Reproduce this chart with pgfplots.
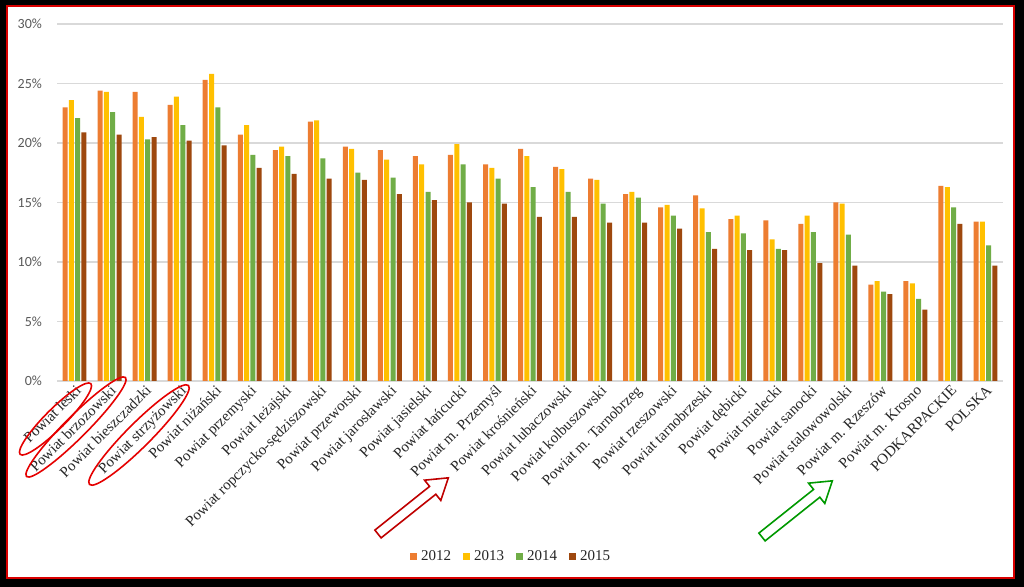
\documentclass[border=0pt]{standalone}
\usepackage{pgfplots}
\pgfplotsset{compat=1.18}
\usepackage{pgfplotstable}
\usepackage{fontspec}
\setmainfont{Liberation Serif}
\newfontfamily\calibri{Carlito}

\definecolor{c2012}{HTML}{ED7D31}
\definecolor{c2013}{HTML}{FFC000}
\definecolor{c2014}{HTML}{70AD47}
\definecolor{c2015}{HTML}{9E480E}
\definecolor{gridgray}{HTML}{D9D9D9}
\definecolor{ticktext}{HTML}{595959}

% unemployment share by county, 2012-2015
\pgfplotstableread{
idx y2012 y2013 y2014 y2015
0  23.0 23.6 22.1 20.9
1  24.4 24.3 22.6 20.7
2  24.3 22.2 20.3 20.5
3  23.2 23.9 21.5 20.2
4  25.3 25.8 23.0 19.8
5  20.7 21.5 19.0 17.9
6  19.4 19.7 18.9 17.4
7  21.8 21.9 18.7 17.0
8  19.7 19.5 17.5 16.9
9  19.4 18.6 17.1 15.7
10 18.9 18.2 15.9 15.2
11 19.0 19.9 18.2 15.0
12 18.2 17.9 17.0 14.9
13 19.5 18.9 16.3 13.8
14 18.0 17.8 15.9 13.8
15 17.0 16.9 14.9 13.3
16 15.7 15.9 15.4 13.3
17 14.6 14.8 13.9 12.8
18 15.6 14.5 12.5 11.1
19 13.6 13.9 12.4 11.0
20 13.5 11.9 11.1 11.0
21 13.2 13.9 12.5 9.9
22 15.0 14.9 12.3 9.7
23 8.1  8.4  7.5  7.3
24 8.4  8.2  6.9  6.0
25 16.4 16.3 14.6 13.2
26 13.4 13.4 11.4 9.7
}\data

\begin{document}
\begin{tikzpicture}
% frame
\fill[black] (0,0) rectangle (512pt,293.5pt);
\filldraw[fill=white, draw=red!85!black, line width=1pt] (3.5pt,4.25pt) rectangle (507pt,290.25pt);

\begin{axis}[
    at={(28.5pt,103pt)}, anchor=south west,
    scale only axis,
    width=473pt, height=178.5pt,
    ybar=0.65pt, bar width=2.5pt,
    xmin=-0.5, xmax=26.5,
    ymin=0, ymax=30,
    xtick={0,...,26},
    xticklabels={Powiat leski, Powiat brzozowski, Powiat bieszczadzki, Powiat strzyżowski,
        Powiat niżański, Powiat przemyski, Powiat leżajski, Powiat ropczycko-sędziszowski,
        Powiat przeworski, Powiat jarosławski, Powiat jasielski, Powiat łańcucki,
        Powiat m. Przemyśl, Powiat krośnieński, Powiat lubaczowski, Powiat kolbuszowski,
        Powiat m. Tarnobrzeg, Powiat rzeszowski, Powiat tarnobrzeski, Powiat dębicki,
        Powiat mielecki, Powiat sanocki, Powiat stalowowolski, Powiat m. Rzeszów,
        Powiat m. Krosno, PODKARPACKIE, POLSKA},
    xticklabel style={rotate=45, anchor=north east, inner sep=1pt, font=\fontsize{7.5}{8}\selectfont, text=black!85},
    ytick={0,5,...,30},
    yticklabels={0\%,5\%,10\%,15\%,20\%,25\%,30\%},
    yticklabel style={font=\calibri\fontsize{7}{8}\selectfont, text=ticktext, xshift=-4pt},
    major tick length=0pt,
    ymajorgrids,
    grid style={gridgray, line width=0.6pt},
    axis line style={draw=none},
    legend style={at={(0.481,-0.493)}, anchor=center, legend columns=4, draw=none, fill=none,
        font=\fontsize{7.5}{8}\selectfont, text=black!85,
        /tikz/every even column/.append style={column sep=4pt}},
    legend image code/.code={\fill[#1] (0pt,-1.75pt) rectangle (3.5pt,1.75pt);},
]
\addplot[fill=c2012, draw=none] table[x=idx, y=y2012] {\data};
\addplot[fill=c2013, draw=none] table[x=idx, y=y2013] {\data};
\addplot[fill=c2014, draw=none] table[x=idx, y=y2014] {\data};
\addplot[fill=c2015, draw=none] table[x=idx, y=y2015] {\data};
\legend{2012,2013,2014,2015}
\end{axis}

% annotations: ellipses around labels
\draw[red!90!black, line width=0.8pt, rotate around={45:(27.75pt,84pt)}] (27.75pt,84pt) ellipse (25pt and 5pt);
\draw[red!90!black, line width=0.8pt, rotate around={45:(38pt,80pt)}] (38pt,80pt) ellipse (35pt and 5.5pt);
\draw[red!90!black, line width=0.8pt, rotate around={45:(69.5pt,76pt)}] (69.5pt,76pt) ellipse (35pt and 6pt);

% block arrows
\begin{scope}[shift={(189pt,26.5pt)}, rotate=38.6]
\draw[red!75!black, line width=0.8pt, line join=miter] (0,-2.5pt) -- (35pt,-2.5pt) -- (35pt,-6.5pt) -- (45pt,0) -- (35pt,6.5pt) -- (35pt,2.5pt) -- (0,2.5pt) -- cycle;
\end{scope}
\begin{scope}[shift={(381pt,25pt)}, rotate=38.6]
\draw[green!60!black, line width=0.8pt, line join=miter] (0,-2.5pt) -- (35pt,-2.5pt) -- (35pt,-6.5pt) -- (45pt,0) -- (35pt,6.5pt) -- (35pt,2.5pt) -- (0,2.5pt) -- cycle;
\end{scope}

\pgfresetboundingbox
\path (0,0) rectangle (512pt,293.5pt);
\end{tikzpicture}
\end{document}
